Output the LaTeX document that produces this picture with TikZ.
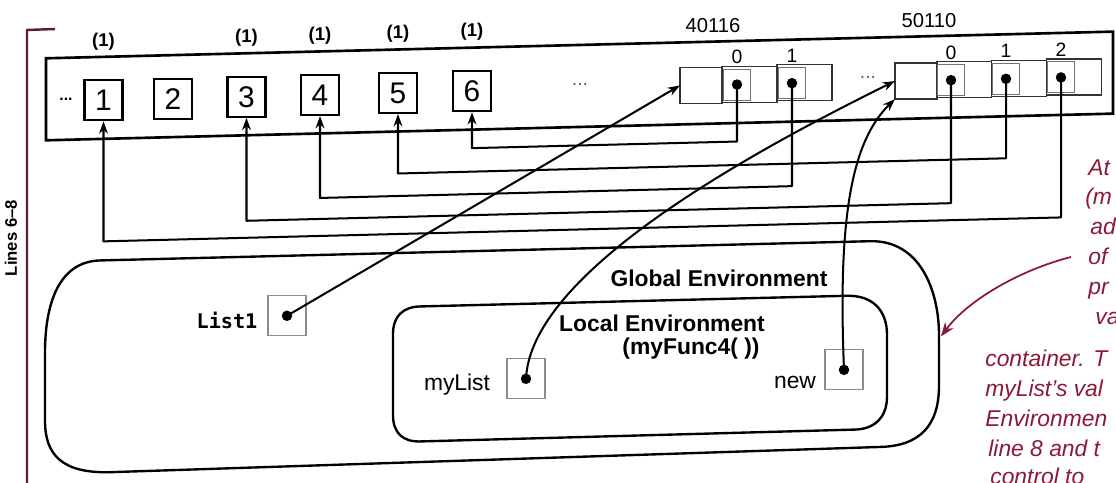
\documentclass[tikz,border=0pt]{standalone}
\usepackage{fontspec}
\setmainfont{Liberation Sans}
\setmonofont{DejaVu Sans Mono}
\usetikzlibrary{arrows.meta}
\definecolor{mred}{RGB}{140,25,55}
\definecolor{brk}{RGB}{90,32,42}
\tikzset{
  conn/.style={line width=1.15pt, line join=round},
  tipa/.style={-{Stealth[length=7pt,width=5pt]}},
  numbox/.style={draw, line width=1.15pt, minimum width=0.76cm, minimum height=0.8cm, inner sep=0pt, font=\fontsize{17}{17}\selectfont},
  hdrbox/.style={draw=black!80, line width=0.7pt, minimum width=0.84cm, minimum height=0.72cm, inner sep=0pt, outer sep=0pt},
  slotbox/.style={draw=black!80, line width=0.7pt, minimum width=1.1cm, minimum height=0.72cm, inner sep=0pt, outer sep=0pt},
  ptrbox/.style={draw=black!55, line width=0.55pt, minimum width=0.54cm, minimum height=0.62cm, inner sep=0pt},
  vardot/.style={circle, fill=black, inner sep=0pt, minimum size=0.21cm},
  varbox/.style={draw=black!45, line width=0.65pt, minimum width=0.76cm, minimum height=0.8cm, inner sep=0pt},
  lbl/.style={font=\fontsize{11}{11}\selectfont, inner sep=0pt},
  addr/.style={font=\fontsize{11.5}{11.5}\selectfont, inner sep=0pt},
  onelbl/.style={font=\bfseries\fontsize{10.5}{10.5}\selectfont, inner sep=0pt},
  envlbl/.style={font=\bfseries\fontsize{13}{15}\selectfont, inner sep=0pt},
  varlbl/.style={font=\fontsize{13}{13}\selectfont, inner sep=0pt},
  redtxt/.style={font=\itshape\fontsize{13}{13}\selectfont, text=mred, inner sep=0pt, anchor=west, text height=0.72em, text depth=0.2em},
  envline/.style={line width=1.35pt},
}
\begin{document}
\begin{tikzpicture}[x=0.02cm, y=-0.02cm]
\fill[white] (0,0) rectangle (1116,483);
\useasboundingbox (0,0) rectangle (1116,483);

\begin{scope}[cm={1,0.025,0,1,(0cm,-0.279cm)}]
  % memory
  \draw[line width=1.5pt] (46,45.5) rectangle (1113,127.5);
  \foreach \n/\x in {1/103.5,2/173,3/246.5,4/320,5/398,6/472}
    \node[numbox] (c\n) at (\x,89) {\n};
  \foreach \k/\x in {1/103.5,3/246.5,4/320,5/398,6/472}
    \node[onelbl] (one\k) at (\x,30) {(1)};
  \node[font=\bfseries\fontsize{9}{9}\selectfont, inner sep=0pt] (dotsl) at (66,87) {...};
  \node[lbl, text=black!60] (dotsm) at (580,85) {...};
  \node[lbl, text=black!60] (dotsr) at (868,85) {...};

  % array 40116
  \node[hdrbox] (aH) at (701,89) {};
  \node[slotbox] (aC0) at (749.5,89) {};
  \node[slotbox] (aC1) at (804.5,89) {};
  \node[ptrbox] (aP0) at (737,89) {};
  \node[ptrbox] (aP1) at (792,89) {};
  \node[vardot] (dA0) at (737,89) {};
  \node[vardot] (dA1) at (792,89) {};
  \node[lbl] (aL0) at (737,61.5) {0};
  \node[lbl] (aL1) at (792,61.5) {1};
  \node[addr] (aAd) at (713,29.5) {40116};

  % array 50110
  \node[hdrbox] (bH) at (916,90) {};
  \node[slotbox] (bC0) at (964,90) {};
  \node[slotbox] (bC1) at (1019,90) {};
  \node[slotbox] (bC2) at (1074,90) {};
  \node[ptrbox] (bP0) at (951,90) {};
  \node[ptrbox] (bP1) at (1006,90) {};
  \node[ptrbox] (bP2) at (1061,90) {};
  \node[vardot] (dB0) at (951,90) {};
  \node[vardot] (dB1) at (1006,90) {};
  \node[vardot] (dB2) at (1061,90) {};
  \node[lbl] (bL0) at (951,62.5) {0};
  \node[lbl] (bL1) at (1006,62.5) {1};
  \node[lbl] (bL2) at (1061,62.5) {2};
  \node[addr] (bAd) at (929,30) {50110};

  % element references
  \draw[conn,tipa] (dA0.center) -- (737,146) -- (472,146) -- (c6.south);
  \draw[conn,tipa] (dB1.center) -- (1006,169.5) -- (398,169.5) -- (c5.south);
  \draw[conn,tipa] (dA1.center) -- (792,192) -- (320,192) -- (c4.south);
  \draw[conn,tipa] (dB0.center) -- (951,213) -- (246.5,213) -- (c3.south);
  \draw[conn,tipa] (dB2.center) -- (1061,230) -- (103.5,230) -- (c1.south);

  % environments
  \draw[envline] (100,249) -- (870,249) .. controls (920,249) and (939,300) .. (939,345)
     -- (939,395) .. controls (939,435) and (920,455) .. (880,455)
     -- (110,461) .. controls (62,461) and (45,442) .. (45,408)
     -- (45,340) .. controls (45,285) and (62,249) .. (100,249) -- cycle;
  \draw[envline] (420,303) -- (847,303) .. controls (872,303) and (887,318) .. (887,343)
     -- (887,405) .. controls (887,425) and (875,437) .. (855,437)
     -- (420,438) .. controls (403,438) and (393,429) .. (393,411)
     -- (393,330) .. controls (393,312) and (403,303) .. (420,303) -- cycle;
  \coordinate (gR) at (941,346);

  \node[envlbl] (gT) at (719,282) {Global Environment};
  \node[envlbl] (lT) at (662,326) {Local Environment};
  \node[envlbl] (lT2) at (691,352) {(myFunc4( ))};

  % variables
  \node[varbox] (vL) at (287,309) {};
  \node[vardot] (dL) at (287,309) {};
  \node[font=\ttfamily\bfseries\fontsize{11.5}{11.5}\selectfont, inner sep=0pt] (tL) at (227,312) {List1};
  \node[varbox] (vM) at (526,378) {};
  \node[vardot] (dM) at (526,378) {};
  \node[varlbl] (tM) at (457,382) {myList};
  \node[varbox] (vN) at (844,377) {};
  \node[vardot] (dN) at (844,377) {};
  \node[varlbl] (tN) at (795,388) {new};

  \draw[conn,tipa] (dL.center) -- (aH.west);
  \draw[conn,tipa] (dM.center) .. controls (530,290) and (680,190) .. (bH.west);
  \draw[conn,tipa] (dN.center) .. controls (838,230) and (850,150) .. (bH.south west);
\end{scope}

% bracket and side label
\draw[brk, line width=1.4pt] (55,29) -- (27,30) -- (27,483);
\node[rotate=90, font=\bfseries\fontsize{9.5}{9.5}\selectfont, inner sep=0pt] (lines) at (11,238) {Lines 6–8};

% red annotation
\coordinate (rS) at (1071,257);
\draw[mred, line width=1pt, -{Stealth[length=8pt,width=6pt]}] (rS) .. controls (1020,270) and (968,300) .. (gR);
\node[redtxt] (r1) at (1088,171) {At i};
\node[redtxt] (r2) at (1085,200) {(m};
\node[redtxt] (r3) at (1090,230) {ad};
\node[redtxt] (r4) at (1088,260) {of};
\node[redtxt] (r5) at (1088,290) {pr};
\node[redtxt] (r6) at (1095,320) {va};
\node[redtxt] (r7) at (985,362) {container. T};
\node[redtxt] (r8) at (985,392) {myList's val};
\node[redtxt] (r9) at (985,422) {Environmen};
\node[redtxt] (r10) at (988,452) {line 8 and t};
\node[redtxt] (r11) at (990,480) {control to};
\end{tikzpicture}
\end{document}
